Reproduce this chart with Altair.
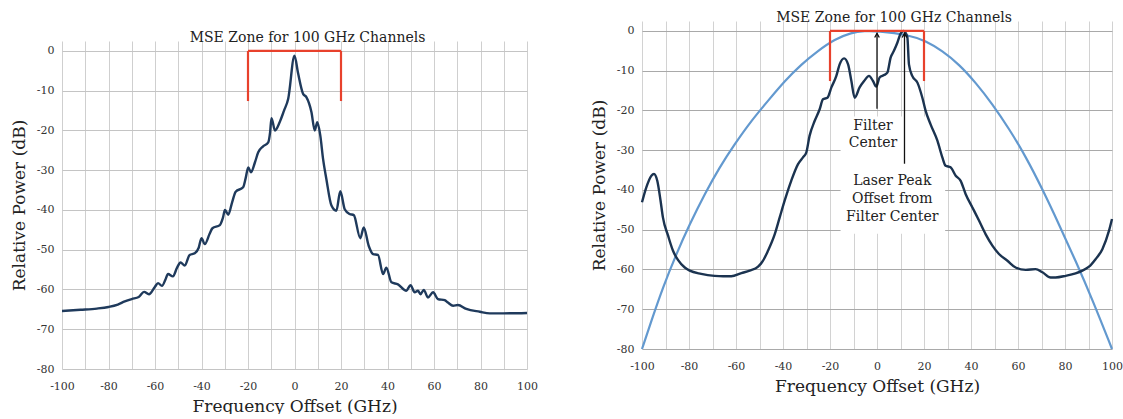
import altair as alt
import pandas as pd

FONT = "DejaVu Serif"
RED = "#e8412c"
NAVY = "#1f3a5c"
BLUE = "#6399cf"
INK = "#222222"

# ---- left panel: laser spectrum centred on the channel ----
left_freq = [-100, -92, -85, -80, -76, -73, -70, -67, -64.7, -62.6, -60, -58.7, -57,
             -55.5, -54.4, -52.3, -50.5, -49, -47.2, -45.1, -42.9, -41.2, -40.0, -38.6,
             -36.5, -35.3, -32.1, -30.8, -29.9, -28.5, -26.8, -25.3, -22.1, -21, -19.9,
             -18.7, -17, -15.6, -13.5, -11.3, -10.5, -9.9, -8.4, -6.3, -4.5, -2.7, 0,
             1.5, 3.7, 5.1, 7.3, 8.7, 9.8, 11.1, 12.3, 13.7, 15.9, 18.0, 19.7, 21.6,
             23.7, 25.5, 28.3, 29.8, 31.9, 33.8, 35.9, 38.1, 39.5, 41.7, 44.5, 48.1,
             49.9, 51.7, 53.1, 54.2, 55.6, 57.4, 59.6, 61.7, 64.6, 66.0, 68.2, 70.3,
             73.9, 79.7, 84.0, 89.7, 100]
left_power = [-65.4, -65.1, -64.8, -64.4, -63.8, -63.0, -62.4, -61.9, -60.6, -61.2, -59.3,
              -58.4, -59.1, -57.5, -56.1, -56.7, -54.5, -53.2, -54.0, -51.3, -50.9, -49.5,
              -47.1, -48.6, -46.0, -44.6, -43.8, -42.0, -40.0, -41.2, -38.0, -35.4, -34.3,
              -32.0, -29.3, -30.5, -28.0, -25.5, -24.0, -23.0, -20.5, -16.9, -20.0, -17.8,
              -15.0, -12.0, -1.2, -5.5, -10.8, -11.6, -15.4, -20.0, -17.9, -21.3, -27.2,
              -32.2, -38.9, -40.2, -35.3, -39.8, -41.0, -41.3, -47.1, -44.4, -49.0, -51.1,
              -51.3, -56.1, -54.5, -58.2, -58.7, -60.3, -58.9, -60.7, -60.3, -61.2, -60.1,
              -62.0, -60.7, -62.4, -62.7, -63.3, -64.1, -63.9, -64.9, -65.6, -66.0, -66.0,
              -65.9]

# ---- right panel: laser offset from the filter centre ----
right_freq = [-100, -98.2, -96, -94.9, -93.5, -92.1, -91.1, -88.9, -86.8, -84.7, -81.8,
              -79.7, -74.8, -69.1, -65.5, -62, -57.7, -54.2, -50.6, -48.5, -46.4, -43.5,
              -41.4, -39.3, -36.5, -33.6, -31.5, -30.1, -28.7, -26.5, -24.4, -23, -21.1,
              -19.4, -17.3, -15.9, -14, -12.3, -10.9, -9.5, -7.4, -5.5, -3.4, -1.7, -0.3,
              1.1, 3, 4.4, 5.8, 7.2, 8.7, 10.1, 11.3, 12.9, 13.6, 15, 17.2, 19.3, 20.7,
              22.8, 25.7, 27.8, 29.2, 31.3, 33.5, 35.6, 37.7, 40.6, 43.4, 46.2, 49.1,
              51.9, 55.5, 59, 63.3, 67.5, 70.4, 73.9, 76, 80.3, 84.5, 87.4, 90.2, 93,
              95.9, 98.7, 100]
right_power = [-43.1, -39.4, -36.4, -36.0, -37.7, -42.7, -46.9, -51.5, -55.3, -57.6, -59.5,
               -60.3, -61.1, -61.6, -61.7, -61.7, -60.9, -60.3, -59.3, -57.8, -55.3, -51.1,
               -46.9, -42.7, -37.7, -33.5, -31.8, -30.6, -26.4, -22.6, -19.7, -17.2, -16.8,
               -14.2, -11.3, -8.4, -6.9, -8.4, -12.6, -16.8, -14.2, -12.6, -11.3, -12.6,
               -14.0, -11.7, -11.1, -10.5, -6.7, -5.0, -2.9, -0.6, 0.0, -1.5, -8.4, -11.3,
               -13.0, -16.8, -20.1, -23.5, -27.6, -31.8, -33.9, -34.3, -36.4, -37.7, -41.0,
               -44.4, -47.7, -51.1, -54.0, -56.1, -57.8, -59.5, -60.1, -59.9, -60.7, -62.0,
               -62.0, -61.6, -61.0, -60.3, -59.3, -57.4, -54.9, -50.3, -47.3]

# filter passband (dB) across the channel
filter_freq = [-100, -96, -91.1, -85.4, -79.7, -73.3, -67, -60.6, -53.5, -46.4, -39.3,
               -32.2, -25.1, -18, -10.9, -5.2, 0, 13.6, 20.7, 27.8, 34.9, 42, 49.1, 56.2,
               63.3, 70.4, 77.4, 84.5, 91.6, 100]
filter_power = [-80, -72.9, -64.5, -56.1, -48.6, -41.0, -34.3, -28.5, -22.6, -17.6, -12.6,
                -8.4, -5.0, -2.1, -0.4, 0.0, 0.0, -1.0, -2.5, -5.0, -8.4, -13.0, -18.4,
                -24.6, -31.6, -39.8, -48.6, -57.8, -67.5, -80]

# MSE zone bracket: edges and depth of the legs
zone_edges = [-20, 20]
zone_depth = -12.6

# annotations on the right panel
arrow_freq = [0, 11.7]
arrow_base = [-19.6, -33.4]
arrow_tip = -0.6
note_text = ["Filter", "Center", "Laser Peak", "Offset from", "Filter Center"]
note_freq = [-1.7, -1.7, 6.5, 6.5, 6.5]
note_power = [-23.9, -28.1, -37.7, -42.2, -46.7]
note_box = {"x": -15.5, "x2": 29, "y": -21.5, "y2": -51}

x_ticks = list(range(-100, 101, 10))
y_ticks = list(range(-80, 1, 10))
Y_TOP = 2.5
TITLE = "MSE Zone for 100 GHz Channels"


def xenc(field, grid):
    return alt.X(field, type="quantitative",
                 scale=alt.Scale(domain=[-100, 100], nice=False, zero=False),
                 axis=alt.Axis(values=x_ticks, title="Frequency Offset (GHz)",
                               labelExpr="datum.value % 20 == 0 ? '' + datum.value : ''",
                               labelFlush=False, labelOverlap=False, ticks=False,
                               domain=False, gridColor=grid, gridWidth=1,
                               labelPadding=11, titlePadding=7))


def yenc(field, grid):
    return alt.Y(field, type="quantitative",
                 scale=alt.Scale(domain=[-80, Y_TOP], nice=False, zero=False),
                 axis=alt.Axis(values=y_ticks, title="Relative Power (dB)",
                               labelExpr="'' + datum.value",
                               labelOverlap=False, ticks=False, domain=False,
                               gridColor=grid, gridWidth=1, labelPadding=8,
                               titlePadding=8))


def bracket(grid_x, grid_y):
    df = pd.DataFrame({
        "x": [zone_edges[0], zone_edges[0], zone_edges[1]],
        "x2": [zone_edges[1], zone_edges[0], zone_edges[1]],
        "y": [0, 0, 0],
        "y2": [0, zone_depth, zone_depth],
    })
    return alt.Chart(df).mark_rule(color=RED, strokeWidth=2.2).encode(
        x=xenc("x", grid_x), x2="x2", y=yenc("y", grid_y), y2="y2")


def panel_title(dx):
    return alt.TitleParams(text=TITLE, font=FONT, fontSize=14, fontWeight="normal",
                           color=INK, anchor="middle", frame="group", dx=dx,
                           offset=-4)


# left panel
gl_x, gl_y = "#cfcfcf", "#c4c4c4"
left_df = pd.DataFrame({"f": left_freq, "p": left_power})
left_line = alt.Chart(left_df).mark_line(color=NAVY, strokeWidth=2.4,
                                         interpolate="monotone").encode(
    x=xenc("f", gl_x), y=yenc("p", gl_y))
left = alt.layer(bracket(gl_x, gl_y), left_line).properties(
    width=465, height=328, title=panel_title(13))

# blank strip that sets the left panel lower than the right one
spacer = alt.Chart(pd.DataFrame({"v": [0]})).mark_point(opacity=0).encode(
    x=alt.value(0), y=alt.value(0)).properties(width=465, height=9.5)
left_col = alt.vconcat(spacer, left, spacing=0)

# right panel
gr_x, gr_y = "#d2d2d2", "#a9a9a9"
filt_df = pd.DataFrame({"f": filter_freq, "p": filter_power})
filt_line = alt.Chart(filt_df).mark_line(color=BLUE, strokeWidth=2.2,
                                         interpolate="basis").encode(
    x=xenc("f", gr_x), y=yenc("p", gr_y))
box = alt.Chart(pd.DataFrame([note_box])).mark_rect(color="white").encode(
    x=xenc("x", gr_x), x2="x2", y=yenc("y", gr_y), y2="y2")
right_df = pd.DataFrame({"f": right_freq, "p": right_power})
right_line = alt.Chart(right_df).mark_line(color="#1b3350", strokeWidth=2.4,
                                           interpolate="monotone").encode(
    x=xenc("f", gr_x), y=yenc("p", gr_y))
arrow_df = pd.DataFrame({"f": arrow_freq, "base": arrow_base,
                         "tip": [arrow_tip] * len(arrow_freq)})
arrow_stem = alt.Chart(arrow_df).mark_rule(color="#111111", strokeWidth=1.3).encode(
    x=xenc("f", gr_x), y=yenc("base", gr_y), y2="tip")
arrow_head = alt.Chart(arrow_df).mark_point(
    shape="M-0.55,1L0,0L0.55,1", filled=False, size=70, color="#111111",
    strokeWidth=1.3, opacity=1).encode(x=xenc("f", gr_x), y=yenc("tip", gr_y))
notes = alt.Chart(pd.DataFrame({"t": note_text, "f": note_freq, "p": note_power})).mark_text(
    font=FONT, fontSize=14, color=INK, align="center", baseline="middle").encode(
    x=xenc("f", gr_x), y=yenc("p", gr_y), text="t:N")

right = alt.layer(filt_line, box, right_line, bracket(gr_x, gr_y), arrow_stem,
                  arrow_head, notes).properties(
    width=470, height=328, title=panel_title(17))

chart = alt.hconcat(left_col, right, spacing=52).properties(
    padding={"left": 10, "top": 11, "right": 0, "bottom": 0},
    background="white",
).configure_view(stroke=None).configure_axis(
    labelFont=FONT, labelFontSize=11, labelColor="#333333",
    titleFont=FONT, titleFontSize=17, titleFontWeight="normal", titleColor=INK,
)

chart.save("out.html", embed_options={"renderer": "svg", "actions": False})
